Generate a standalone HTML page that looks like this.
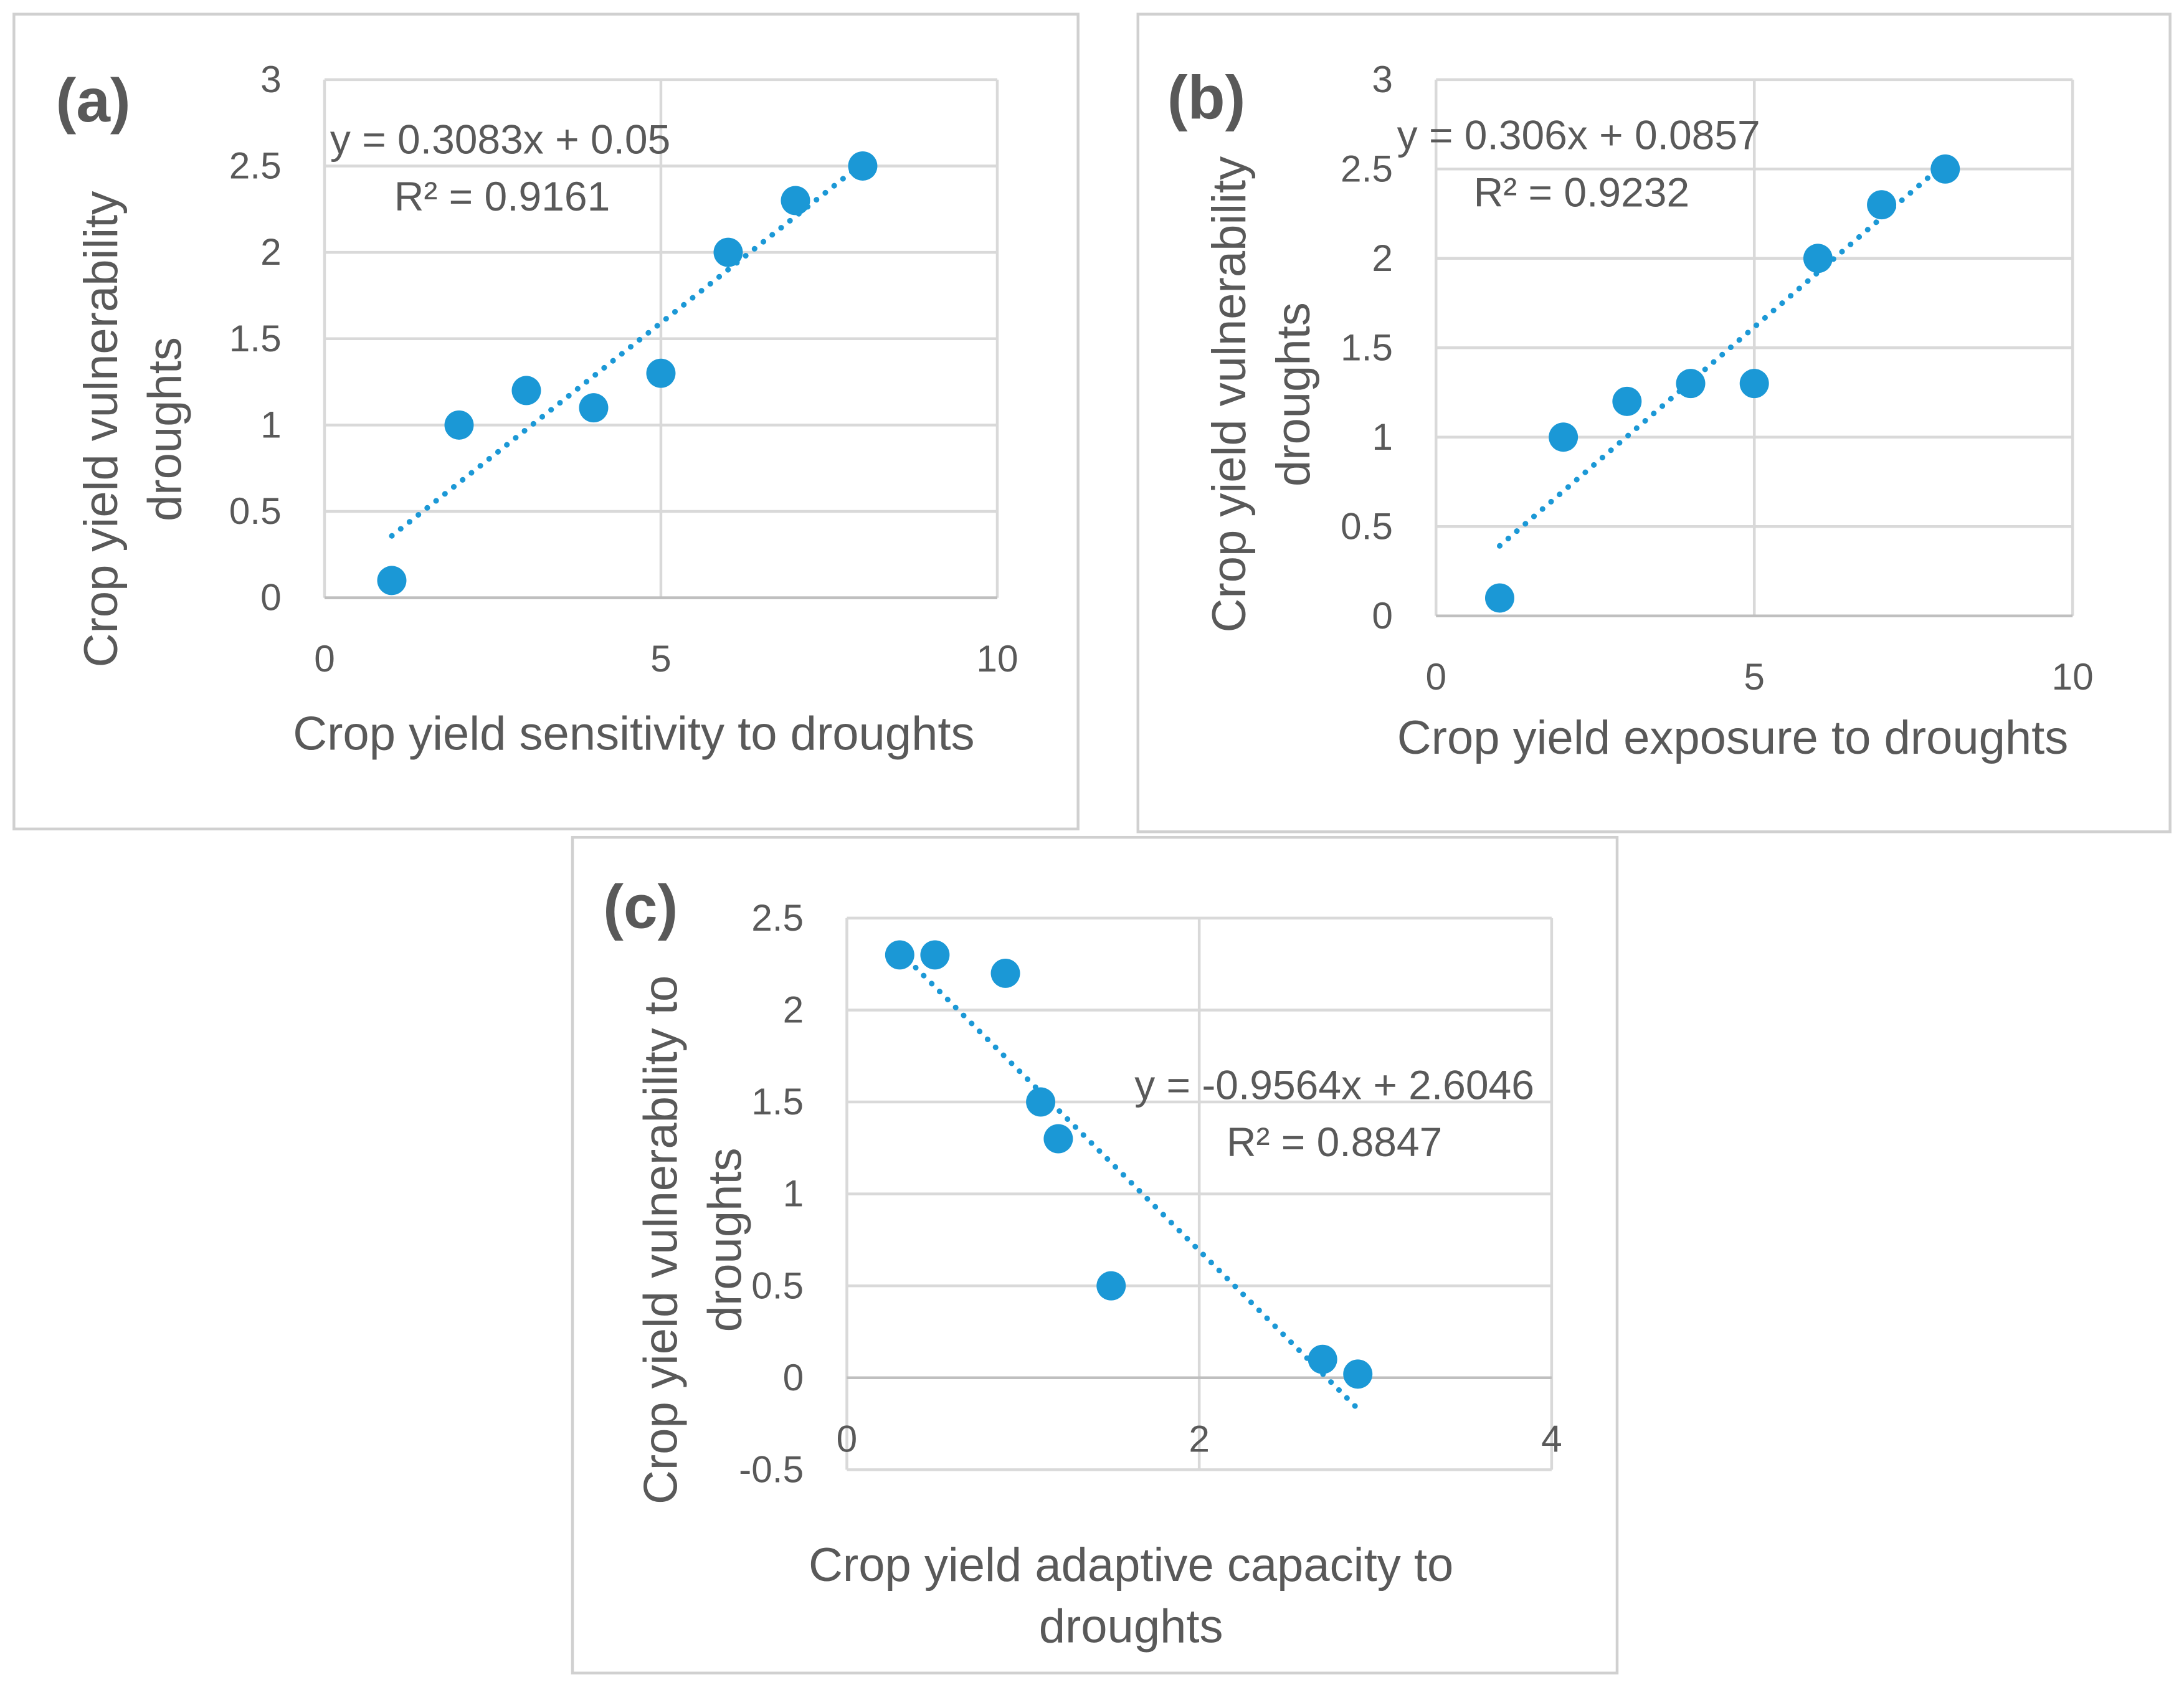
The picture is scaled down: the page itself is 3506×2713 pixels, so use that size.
<!DOCTYPE html>
<html><head><meta charset="utf-8">
<style>
html,body{margin:0;padding:0;background:#fff;}
svg{display:block;}
text{font-family:"Liberation Sans",sans-serif;fill:#595959;}
</style></head>
<body>
<svg id="c" width="3506" height="2713" viewBox="0 0 1568 1213" xmlns="http://www.w3.org/2000/svg"></svg>
<script>
const xsAB = [1,2,3,4,5,6,7,8];
const ysA = [0.1,1,1.2,1.1,1.3,2,2.3,2.5];
const ysB = [0.1,1,1.2,1.3,1.3,2,2.3,2.5];
const xsC = [0.3,0.5,0.9,1.1,1.2,1.5,2.7,2.9];
const ysC = [2.3,2.3,2.2,1.5,1.3,0.5,0.1,0.02];
const coefA = [0.3083,0.05];
const coefB = [0.306,0.0857];
const coefC = [-0.9564,2.6046];
const yTicksAB = [0,0.5,1,1.5,2,2.5,3];
const xTicksAB = [0,5,10];
const yTicksC = [-0.5,0,0.5,1,1.5,2,2.5];
const xTicksC = [0,2,4];

const svg=document.getElementById('c');
const NS='http://www.w3.org/2000/svg';
function mk(tag,attrs,parent,txt){const e=document.createElementNS(NS,tag);for(const k in attrs)e.setAttribute(k,attrs[k]);if(txt!==undefined)e.textContent=txt;(parent||svg).appendChild(e);return e;}

const panels=[
 {id:'a',box:[10,10,764,585],x0:233,x1:716,xmin:0,xmax:10,yb:429,yt:57,ymin:0,ymax:3,xs:xsAB,ys:ysA,coef:coefA,yt_:yTicksAB,xt:xTicksAB,
  ylx:202,xly:482,xtitle:['Crop yield sensitivity to droughts'],xtY:[538],xtX:455,
  ytitle:['Crop yield vulnerability','droughts'],ytX:[84,130],ytY:308,
  eq:['y = 0.3083x + 0.05','R² = 0.9161'],eqPos:[[237,110],[283,151]],eqAnchor:'start',lab:[40,87],xAxisAt0:false},
 {id:'b',box:[817,10,741,587],x0:1031,x1:1488,xmin:0,xmax:10,yb:442,yt:57,ymin:0,ymax:3,xs:xsAB,ys:ysB,coef:coefB,yt_:yTicksAB,xt:xTicksAB,
  ylx:1000,xly:495,xtitle:['Crop yield exposure to droughts'],xtY:[541],xtX:1244,
  ytitle:['Crop yield vulnerability','droughts'],ytX:[894,940],ytY:283,
  eq:['y = 0.306x + 0.0857','R² = 0.9232'],eqPos:[[1003,107],[1058,148]],eqAnchor:'start',lab:[838,85],xAxisAt0:false},
 {id:'c',box:[411,601,750,600],x0:608,x1:1114,xmin:0,xmax:4,yb:1055,yt:659,ymin:-0.5,ymax:2.5,xs:xsC,ys:ysC,coef:coefC,yt_:yTicksC,xt:xTicksC,
  ylx:577,xly:1042,xtitle:['Crop yield adaptive capacity to','droughts'],xtY:[1135,1179],xtX:812,
  ytitle:['Crop yield vulnerability to','droughts'],ytX:[486,532],ytY:890,
  eq:['y = -0.9564x + 2.6046','R² = 0.8847'],eqPos:[[958,789],[958,830]],eqAnchor:'middle',lab:[433,666],xAxisAt0:true}
];

panels.forEach(p=>{
 const g=mk('g',{});
 
 
 const fx=v=>p.x0+(v-p.xmin)/(p.xmax-p.xmin)*(p.x1-p.x0);
 const fy=v=>p.yb-(v-p.ymin)/(p.ymax-p.ymin)*(p.yb-p.yt);
 const fr=mk('rect',{x:p.box[0],y:p.box[1],width:p.box[2],height:p.box[3],fill:'#fff',stroke:'#d0d0d0','stroke-width':2},g);
 
 
 p.yt_.forEach(t=>{const l=mk('line',{x1:p.x0,x2:p.x1,y1:fy(t),y2:fy(t),stroke:(t===0&&p.xAxisAt0)?'#bfbfbf':'#d9d9d9','stroke-width':2},g);
  
  
  const tx=mk('text',{x:p.ylx,y:fy(t)+9,'text-anchor':'end','font-size':27},g,String(t));
  
  });
 p.xt.forEach(t=>{const l=mk('line',{x1:fx(t),x2:fx(t),y1:p.yt,y2:p.yb,stroke:'#d9d9d9','stroke-width':2},g);
  
  
  const tx=mk('text',{x:fx(t),y:p.xly,'text-anchor':'middle','font-size':27},g,String(t));
  
  });
 const ay=p.xAxisAt0?fy(0):p.yb;
 const ax=mk('line',{x1:p.x0,x2:p.x1,y1:ay,y2:ay,stroke:'#bfbfbf','stroke-width':2},g);
 
 
 const xa=Math.min(...p.xs),xb=Math.max(...p.xs);
 const tl=mk('line',{x1:fx(xa),y1:fy(p.coef[0]*xa+p.coef[1]),x2:fx(xb),y2:fy(p.coef[0]*xb+p.coef[1]),stroke:'#1b98d6','stroke-width':4,'stroke-dasharray':'0.1 8','stroke-linecap':'round'},g);
 
 
 p.xs.forEach((x,i)=>{const c=mk('circle',{cx:fx(x),cy:fy(p.ys[i]),r:10.5,fill:'#1b98d6'},g);
  
  });
 p.xtitle.forEach((s,i)=>{const t=mk('text',{x:p.xtX,y:p.xtY[i],'text-anchor':'middle','font-size':34},g,s);
  
  });
 p.ytitle.forEach((s,i)=>{const t=mk('text',{x:p.ytX[i],y:p.ytY,'text-anchor':'middle','font-size':34,transform:`rotate(-90 ${p.ytX[i]} ${p.ytY})`},g,s);
  
  });
 p.eq.forEach((s,i)=>{const t=mk('text',{x:p.eqPos[i][0],y:p.eqPos[i][1],'text-anchor':p.eqAnchor,'font-size':29.5},g,s);
  
  });
 const lb=mk('text',{x:p.lab[0],y:p.lab[1],'font-size':44,'font-weight':'bold'},g,'('+p.id+')');
 
 
});
</script>
</body></html>
